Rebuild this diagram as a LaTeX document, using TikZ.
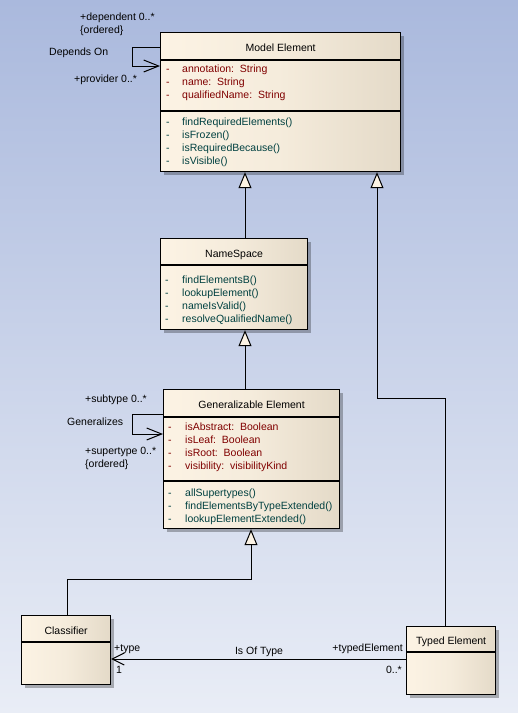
\documentclass[tikz,border=0pt]{standalone}
\usepackage{fontspec}
\setmainfont{Liberation Sans}
\usetikzlibrary{arrows.meta,calc,shadows}
\definecolor{bgtop}{RGB}{170,185,221}
\definecolor{bgbot}{RGB}{233,237,246}
\definecolor{creamL}{RGB}{252,243,228}
\definecolor{creamR}{RGB}{228,218,200}
\definecolor{attrc}{RGB}{128,0,0}
\definecolor{opc}{RGB}{0,64,64}
\begin{document}
\begin{tikzpicture}[x=1pt,y=-1pt,
  font=\fontsize{10.5}{12}\selectfont,
  umlbox/.style={draw=black, line width=1.2pt, rectangle, anchor=north west, inner sep=0pt,
    left color=creamL, right color=creamR, middle color=creamL!70!creamR,
    drop shadow={shadow xshift=3pt, shadow yshift=-3pt, fill=black, opacity=0.28}},
  sepline/.style={draw=black, line width=1.2pt},
  title/.style={anchor=base, inner sep=0pt, text=black},
  attr/.style={anchor=base west, inner sep=0pt, text=attrc},
  oper/.style={anchor=base west, inner sep=0pt, text=opc},
  lbl/.style={anchor=base west, inner sep=0pt, text=black},
  conn/.style={draw=black, line width=1pt},
  gen/.style={conn, -{Triangle[length=16pt,width=13pt,fill=creamL,line width=1pt]}},
  barb/.style={conn, -{Straight Barb[length=15pt,width=12pt,line width=1pt]}},
]
\useasboundingbox (0,0) rectangle (518,713);
\shade[top color=bgtop, bottom color=bgbot] (0,0) rectangle (518,713);

% ---------- Model Element ----------
\node[umlbox, minimum width=240pt, minimum height=139pt] (me) at (160,32) {};
\draw[sepline] (me.west |- 0,60) -- (me.east |- 0,60);
\draw[sepline] (me.west |- 0,111) -- (me.east |- 0,111);
\node[title] (met) at (me.north |- 0,51) {Model Element};
\foreach \yy/\tx [count=\i] in {72/{annotation:\ \ String},85/{name:\ \ String},98/{qualifiedName:\ \ String}}{
  \node[attr] (mea\i) at (182,\yy) {\tx};
  \node[attr] (mead\i) at (166,\yy) {-};
}
\foreach \yy/\tx [count=\i] in {125/{findRequiredElements()},138/{isFrozen()},151/{isRequiredBecause()},164/{isVisible()}}{
  \node[oper] (meo\i) at (182,\yy) {\tx};
  \node[oper] (meod\i) at (166,\yy) {-};
}

% ---------- NameSpace ----------
\node[umlbox, minimum width=147pt, minimum height=91pt] (ns) at (160,238) {};
\draw[sepline] (ns.west |- 0,265) -- (ns.east |- 0,265);
\node[title] (nst) at (ns.north |- 0,257) {NameSpace};
\foreach \yy/\tx [count=\i] in {283/{findElementsB()},296/{lookupElement()},309/{nameIsValid()},322/{resolveQualifiedName()}}{
  \node[oper] (nso\i) at (182,\yy) {\tx};
  \node[oper] (nsod\i) at (165,\yy) {-};
}

% ---------- Generalizable Element ----------
\node[umlbox, minimum width=176pt, minimum height=139pt] (ge) at (163,389) {};
\draw[sepline] (ge.west |- 0,417) -- (ge.east |- 0,417);
\draw[sepline] (ge.west |- 0,481) -- (ge.east |- 0,481);
\node[title] (get) at (ge.north |- 0,408) {Generalizable Element};
\foreach \yy/\tx [count=\i] in {430/{isAbstract:\ \ Boolean},443/{isLeaf:\ \ Boolean},456/{isRoot:\ \ Boolean},469/{visibility:\ \ visibilityKind}}{
  \node[attr] (gea\i) at (185,\yy) {\tx};
  \node[attr] (gead\i) at (168,\yy) {-};
}
\foreach \yy/\tx [count=\i] in {496/{allSupertypes()},509/{findElementsByTypeExtended()},522/{lookupElementExtended()}}{
  \node[oper] (geo\i) at (185,\yy) {\tx};
  \node[oper] (geod\i) at (168,\yy) {-};
}

% ---------- Classifier ----------
\node[umlbox, minimum width=89pt, minimum height=69pt] (cl) at (21,615) {};
\draw[sepline] (cl.west |- 0,642) -- (cl.east |- 0,642);
\node[title] (clt) at (cl.north |- 0,634) {Classifier};

% ---------- Typed Element ----------
\node[umlbox, minimum width=89pt, minimum height=68pt] (te) at (406,626) {};
\draw[sepline] (te.west |- 0,652) -- (te.east |- 0,652);
\node[title] (tet) at (te.north |- 0,644) {Typed Element};

% ---------- coordinates for routing ----------
\coordinate (gx1) at (245,0);
\coordinate (gx2) at (251,579);
\coordinate (gx3) at (67,579);
\coordinate (gx4) at (445,398);
\coordinate (gx5) at (377,398);

% ---------- generalizations ----------
\draw[gen] (ns.north -| gx1) -- (me.south -| gx1);
\draw[gen] (ge.north -| gx1) -- (ns.south -| gx1);
\draw[gen] (cl.north -| gx3) -- (gx3) -- (gx2) -- (ge.south -| gx2);
\draw[gen] (te.north -| gx4) -- (gx4) -- (gx5) -- (me.south -| gx5);

% ---------- Depends On self loop ----------
\coordinate (dl1) at (132,47);
\coordinate (dl2) at (132,66);
\draw[barb] (me.west |- dl1) -- (dl1) -- (dl2) -- (me.west |- dl2);
\node[lbl] (dep) at (80,20) {+dependent 0..*};
\node[lbl] (depo) at (80,33) {\{ordered\}};
\node[lbl] (dpo) at (49,55) {Depends On};
\node[lbl] (prv) at (74,82) {+provider 0..*};

% ---------- Generalizes self loop ----------
\coordinate (gl1) at (132,414);
\coordinate (gl2) at (132,434);
\draw[barb] (ge.west |- gl1) -- (gl1) -- (gl2) -- (ge.west |- gl2);
\node[lbl] (sub) at (85,402) {+subtype 0..*};
\node[lbl] (gnz) at (67,425) {Generalizes};
\node[lbl] (sup) at (85,454) {+supertype 0..*};
\node[lbl] (supo) at (85,467) {\{ordered\}};

% ---------- Is Of Type association ----------
\coordinate (ay) at (0,659);
\draw[conn, -{Straight Barb[length=12pt,width=12pt,line width=1pt]}] (te.west |- ay) -- (cl.east |- ay);
\node[lbl] (typ) at (114,651) {+type};
\node[lbl] (one) at (116,673) {1};
\node[anchor=base, inner sep=0pt] (iot) at (259,654) {Is Of Type};
\node[anchor=base east, inner sep=0pt] (tel) at (403,651) {+typedElement};
\node[anchor=base east, inner sep=0pt] (mul) at (402,673) {0..*};
\end{tikzpicture}
\end{document}
